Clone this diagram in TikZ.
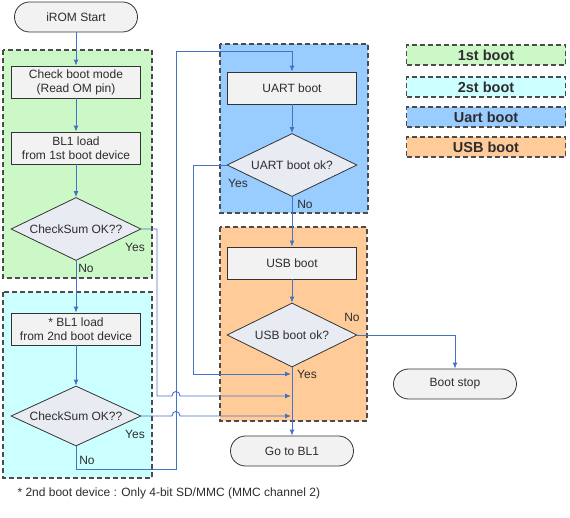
\documentclass[tikz,border=0pt]{standalone}
\usepackage{fontspec}
\setmainfont{Liberation Sans}
\usetikzlibrary{shapes.geometric,arrows.meta}
\definecolor{flowline}{RGB}{68,114,196}
\definecolor{txtgray}{RGB}{45,45,45}
\definecolor{boxgray}{RGB}{242,242,242}
\definecolor{decgray}{RGB}{232,236,242}
\definecolor{firstfill}{RGB}{204,248,200}
\definecolor{secondfill}{RGB}{204,255,255}
\definecolor{uartfill}{RGB}{153,204,255}
\definecolor{usbfill}{RGB}{255,204,153}
\begin{document}
\begin{tikzpicture}[x=1pt,y=-1pt,
    every node/.style={font=\fontsize{12}{14}\selectfont, text=txtgray},
    region/.style={draw=black!70, line width=1.4pt, dash pattern=on 5pt off 3pt},
    procbox/.style={draw=black!80, fill=boxgray, line width=0.8pt, minimum width=129pt, minimum height=32pt, align=center, inner sep=1pt},
    decide/.style={diamond, aspect=2, draw=black!80, fill=decgray, line width=0.8pt, minimum width=130pt, minimum height=63pt, inner sep=0pt},
    term/.style={draw=black!80, fill=boxgray, rounded corners=15pt, line width=0.8pt, minimum width=123pt, minimum height=30pt},
    flow/.style={draw=flowline, line width=0.9pt},
    arr/.style={flow, -{Latex[length=6pt,width=5pt]}},
    legbox/.style={region, minimum width=159pt, minimum height=20pt, inner sep=0pt, font=\fontsize{14.5}{16}\selectfont\bfseries}]
  \useasboundingbox (0,0) rectangle (570,518);
  \draw[region, fill=firstfill] (3,50) rectangle (152,278);
  \draw[region, fill=secondfill] (3,292) rectangle (152,478);
  \draw[region, fill=uartfill] (220,44) rectangle (368,213);
  \draw[region, fill=usbfill] (220,227) rectangle (367,421);
  \draw
    (76,17) node[term] (start) {iROM Start}
    (76,82) node[procbox] (check) {Check boot mode\\(Read OM pin)}
    (76,148) node[procbox] (loadA) {BL1 load\\from 1st boot device}
    (76,229) node[decide] (csA) {CheckSum OK??}
    (76,329) node[procbox] (loadB) {* BL1 load\\from 2nd boot device}
    (76,416) node[decide, minimum height=60pt] (csB) {CheckSum OK??}
    (292,88) node[procbox] (uart) {UART boot}
    (292,165) node[decide] (uartok) {UART boot ok?}
    (292,263) node[procbox] (usb) {USB boot}
    (292,335) node[decide, minimum height=64pt] (usbok) {USB boot ok?}
    (455,384) node[term] (stop) {Boot stop}
    (292,451) node[term] (gobl) {Go to BL1};
  \coordinate (inA) at (291,374);
  \coordinate (inB) at (291,396);
  \coordinate (inC) at (291,416);
  \begin{scope}[arr]
    \draw (start) to (check);
    \draw (check) to (loadA);
    \draw (loadA) to (csA);
    \draw (csA) to (loadB);
    \draw (loadB) to (csB);
    \draw (csB.south) -- (76,469) -- (176,469) -- (176,51) -- (292,51) -- (uart.north);
    \draw (uart) to (uartok);
    \draw (uartok) to (usb);
    \draw (usb) to (usbok);
    \draw (usbok.east) -| (stop.north);
    \draw (usbok) to (gobl);
    \draw (uartok.west) -| (193,374) -- (inA);
    \draw (csA.east) -| (157,396) -- (172,396) .. controls (172,390) and (180,390) .. (180,396) -- (inB);
    \draw (csB.east) -- (172,416) .. controls (172,410) and (180,410) .. (180,416) -- (inC);
  \end{scope}
  \node (yesA) at (135,247) {Yes};
  \node (noA) at (86,268) {No};
  \node (yesB) at (135,434) {Yes};
  \node (noB) at (87,460) {No};
  \node (yesU) at (238,183) {Yes};
  \node (noU) at (305,204) {No};
  \node (noS) at (352,317) {No};
  \node (yesS) at (307,374) {Yes};
  \node[legbox, fill=firstfill] (legA) at (486,55) {1st boot};
  \node[legbox, fill=secondfill] (legB) at (486,87) {2st boot};
  \node[legbox, fill=uartfill] (legC) at (486,117) {Uart boot};
  \node[legbox, fill=usbfill] (legD) at (486,147) {USB boot};
  \node[anchor=west, font=\fontsize{12}{14}\selectfont] (note) at (14,493) {* 2nd boot device : Only 4-bit SD/MMC (MMC channel 2)};
\end{tikzpicture}
\end{document}
